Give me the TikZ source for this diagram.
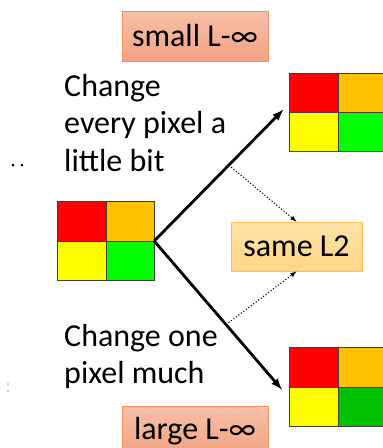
\documentclass[tikz,border=0pt]{standalone}
\usepackage{fontspec}
\setmainfont{Carlito}
\usetikzlibrary{calc}

\definecolor{pxred}{HTML}{FF0000}
\definecolor{pxorange}{HTML}{FFC000}
\definecolor{pxyellow}{HTML}{FFFF00}
\definecolor{pxgreen}{HTML}{00FF00}
\definecolor{pxdarkgreen}{HTML}{00C000}
\definecolor{salmontop}{HTML}{F7C0A8}
\definecolor{salmonbot}{HTML}{F2A282}
\definecolor{salmonline}{HTML}{F4905A}
\definecolor{goldtop}{HTML}{FFE2A6}
\definecolor{goldbot}{HTML}{FFD588}
\definecolor{goldline}{HTML}{FFC44E}

% 2x2 block of pixels: name, centre, four colours
\newcommand\pixels[6]{%
  \node [pixgrid] (#1) at (#2) {};
  \fill [#3] (#1.north west) rectangle (#1.center);
  \fill [#4] (#1.north) rectangle (#1.east);
  \fill [#5] (#1.west) rectangle (#1.south);
  \fill [#6] (#1.center) rectangle (#1.south east);
  \draw [gridline] (#1.north west) rectangle (#1.south east)
    (#1.north) -- (#1.south) (#1.west) -- (#1.east);
}

\tikzset{
  pixgrid/.style={inner sep=0, minimum width=96pt, minimum height=78pt},
  gridline/.style={draw=black!75, line width=0.8pt},
  normtag/.style={draw=salmonline, line width=0.8pt, top color=salmontop,
    bottom color=salmonbot, minimum width=146pt, minimum height=50pt,
    inner sep=0, font=\fontsize{32}{37}\selectfont},
  sametag/.style={draw=goldline, line width=0.8pt, top color=goldtop,
    bottom color=goldbot, minimum width=131pt, minimum height=49pt,
    inner sep=0, font=\fontsize{32}{37}\selectfont},
  remark/.style={anchor=north west, align=left, inner sep=0,
    font=\fontsize{32}{37.5}\selectfont},
  bigarrow/.style={-latex, line width=2.8pt},
  thinarrow/.style={-latex, dotted, line width=1.1pt}
}

\begin{document}
\begin{tikzpicture}[x=1pt, y=-1pt]

  \useasboundingbox (0,0) rectangle (383,448);
  \clip (0,0) rectangle (383,448);

  % Pixel blocks
  \pixels{orig}{106,241}{pxred}{pxorange}{pxyellow}{pxgreen}
  \pixels{up}{338,112.5}{pxred}{pxorange}{pxyellow}{pxgreen}
  \pixels{down}{338,387}{pxred}{pxorange}{pxyellow}{pxdarkgreen}

  % Labels
  \node [normtag] (small) at (195,36) {small L-∞};
  \node [normtag] (large) at (195,431) {large L-∞};
  \node [sametag] (same) at (296.5,246.5) {same L2};

  \node [remark] (every) at (64,74) {Change\\every pixel a\\little bit};
  \node [remark] (one) at (64,324) {Change one\\pixel much};

  % Stray marks on the left edge
  \fill (13,165) circle [radius=1.5];
  \fill (22,165) circle [radius=1.5];
  \fill [black!40] (8,384) circle [radius=0.8];
  \fill [black!40] (8,391) circle [radius=0.8];

  % Arrows
  \coordinate (uptip) at ($(up.north west)!0.38!(up.south west)$);
  \coordinate (downtip) at ($(down.north west)!0.65!(down.south west)$);
  \draw [bigarrow, shorten >=9pt] (orig.east) -- coordinate [pos=0.55] (upmid) (uptip);
  \draw [bigarrow, shorten >=12pt] (orig.east) -- coordinate [pos=0.53] (downmid) (downtip);
  \draw [thinarrow] (upmid) -- (same.north);
  \draw [thinarrow] (downmid) -- (same.south);

\end{tikzpicture}
\end{document}
